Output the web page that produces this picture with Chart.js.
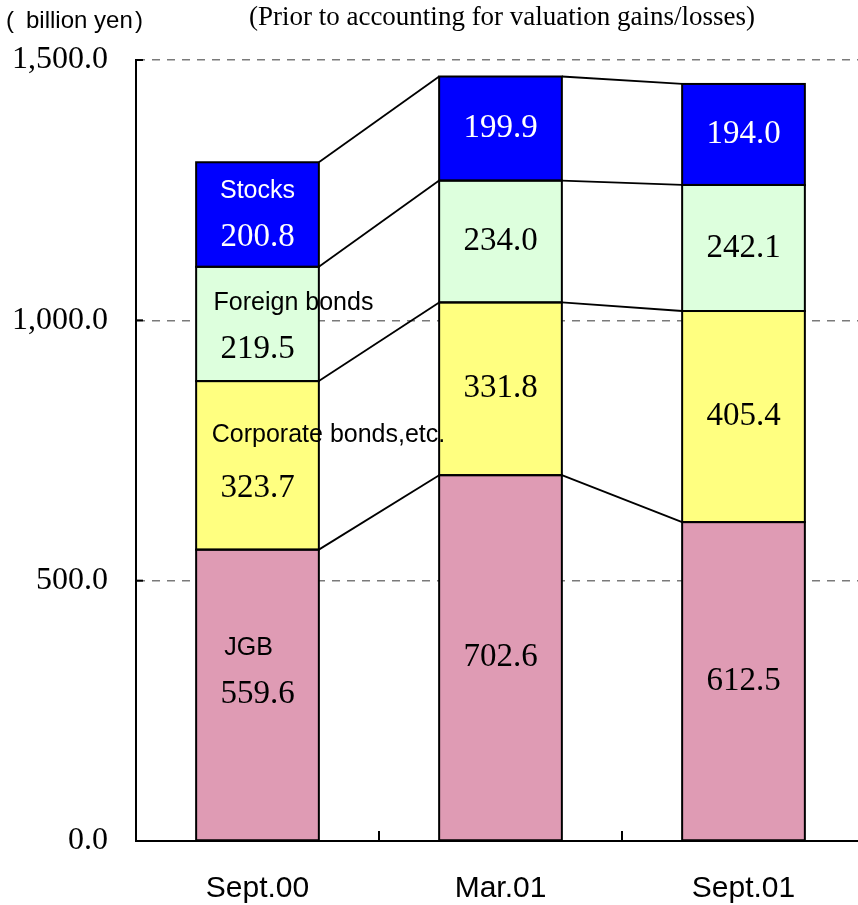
<!DOCTYPE html>
<html>
<head>
<meta charset="utf-8">
<script src="https://cdn.jsdelivr.net/npm/chart.js@4.4.1/dist/chart.umd.min.js"></script>
<style>
  html, body { margin: 0; padding: 0; background: #ffffff; overflow: hidden; }
  #wrap { position: relative; width: 865px; height: 905px; }
</style>
</head>
<body>
<div id="wrap"><canvas id="chart"></canvas></div>
<script>
// Balance by asset type, billion yen
const periods = ['Sept.00', 'Mar.01', 'Sept.01'];
const seriesNames = ['JGB', 'Corporate bonds,etc.', 'Foreign bonds', 'Stocks'];
const jgb = [559.6, 702.6, 612.5];
const corporateBonds = [323.7, 331.8, 405.4];
const foreignBonds = [219.5, 234.0, 242.1];
const stocks = [200.8, 199.9, 194.0];
const yTicks = [0, 500, 1000, 1500];
const unitText = 'billion yen';
const subtitle = '(Prior to accounting for valuation gains/losses)';

// Appearance of each series (fill and the colour of its in-bar text)
const seriesStyle = [
  { fill: '#DF9BB4', text: '#000000' },
  { fill: '#FFFF80', text: '#000000' },
  { fill: '#DDFFDD', text: '#000000' },
  { fill: '#0000FF', text: '#FFFFFF' }
];
// Where the series name and value sit inside the first column (offsets from the segment centre)
const firstColumnLabelPlacement = [
  { nameDx: -9, nameDy: -47, valueDy: -1 },
  { nameDx: 71, nameDy: -30, valueDy: 23 },
  { nameDx: 36, nameDy: -21, valueDy: 25 },
  { nameDx: 0, nameDy: -23, valueDy: 23 }
];

const SERIF = '"Liberation Serif", "Times New Roman", serif';
const SANS = '"Liberation Sans", Arial, sans-serif';

const seriesValues = [jgb, corporateBonds, foreignBonds, stocks];

const fmt = v => v.toLocaleString('en-US', { minimumFractionDigits: 1, maximumFractionDigits: 1 });

// Black outline round every segment, plus lines joining matching segment tops
// between neighbouring columns
const outlinePlugin = {
  id: 'outlines',
  afterDatasetsDraw(chart) {
    const ctx = chart.ctx;
    ctx.save();
    ctx.strokeStyle = '#000000';
    ctx.lineWidth = 2;
    seriesValues.forEach((_, d) => {
      chart.getDatasetMeta(d).data.forEach(el => {
        ctx.strokeRect(el.x - el.width / 2, el.y, el.width, el.base - el.y);
      });
    });
    ctx.lineWidth = 1.8;
    seriesValues.forEach((_, d) => {
      const meta = chart.getDatasetMeta(d);
      for (let i = 0; i < meta.data.length - 1; i++) {
        const a = meta.data[i], b = meta.data[i + 1];
        ctx.beginPath();
        ctx.moveTo(a.x + a.width / 2, a.y);
        ctx.lineTo(b.x - b.width / 2, b.y);
        ctx.stroke();
      }
    });
    ctx.restore();
  }
};

// Values (and, in the first column, series names) written inside the segments
const segmentLabelPlugin = {
  id: 'segmentLabels',
  afterDatasetsDraw(chart) {
    const ctx = chart.ctx;
    ctx.save();
    ctx.textAlign = 'center';
    ctx.textBaseline = 'middle';
    seriesValues.forEach((vals, d) => {
      const meta = chart.getDatasetMeta(d);
      meta.data.forEach((el, i) => {
        const cy = (el.y + el.base) / 2;
        ctx.fillStyle = seriesStyle[d].text;
        let valueY = cy;
        if (i === 0) {
          const p = firstColumnLabelPlacement[d];
          ctx.font = '25px ' + SANS;
          ctx.fillText(seriesNames[d], el.x + p.nameDx, cy + p.nameDy);
          valueY = cy + p.valueDy;
        }
        ctx.font = '33px ' + SERIF;
        ctx.fillText(fmt(vals[i]), el.x, valueY);
      });
    });
    ctx.restore();
  }
};

// Inward tick marks on both axes, unit label and subtitle
const frameExtrasPlugin = {
  id: 'frameExtras',
  afterDraw(chart) {
    const ctx = chart.ctx;
    const x = chart.scales.x, y = chart.scales.y;
    ctx.save();
    ctx.strokeStyle = '#000000';
    ctx.lineWidth = 2;
    yTicks.forEach(v => {
      const py = y.getPixelForValue(v);
      ctx.beginPath();
      ctx.moveTo(x.left, py);
      ctx.lineTo(x.left + 7, py);
      ctx.stroke();
    });
    const step = x.width / periods.length;
    for (let k = 0; k <= periods.length; k++) {
      const px = x.left + k * step;
      ctx.beginPath();
      ctx.moveTo(px, y.bottom);
      ctx.lineTo(px, y.bottom - 10);
      ctx.stroke();
    }
    ctx.fillStyle = '#000000';
    ctx.textBaseline = 'middle';
    // unit label with widely spaced brackets
    ctx.font = '24px ' + SANS;
    ctx.textAlign = 'left';
    ctx.fillText('(', 6, 21);
    ctx.fillText(unitText, 26, 21);
    ctx.textAlign = 'right';
    ctx.fillText(')', 143, 21);
    ctx.textAlign = 'center';
    ctx.font = '27px ' + SERIF;
    ctx.fillText(subtitle, 502, 18);
    ctx.restore();
  }
};

new Chart(document.getElementById('chart'), {
  type: 'bar',
  data: {
    labels: periods,
    datasets: seriesValues.map((vals, d) => ({
      label: seriesNames[d],
      data: vals,
      backgroundColor: seriesStyle[d].fill,
      borderWidth: 0,
      inflateAmount: 0,
      barPercentage: 0.505,
      categoryPercentage: 1.0
    }))
  },
  options: {
    responsive: true,
    maintainAspectRatio: false,
    animation: false,
    layout: { padding: { top: 60, right: 0, left: 0, bottom: 0 } },
    plugins: {
      legend: { display: false },
      tooltip: { enabled: false },
      title: { display: false }
    },
    scales: {
      x: {
        stacked: true,
        grid: { display: false, drawTicks: false },
        border: { display: true, color: '#000000', width: 2 },
        ticks: {
          color: '#000000',
          font: { family: SANS, size: 30 },
          padding: 30
        },
        afterFit(scale) { scale.height = 64; }
      },
      y: {
        stacked: true,
        min: 0,
        max: 1500,
        afterBuildTicks(scale) { scale.ticks = yTicks.map(v => ({ value: v })); },
        grid: {
          drawTicks: false,
          lineWidth: 1.5,
          color: ctx => (ctx.tick && ctx.tick.value === 0) ? 'rgba(0,0,0,0)' : '#7a7a7a'
        },
        border: { display: true, color: '#000000', width: 2, dash: [8, 7] },
        ticks: {
          color: '#000000',
          font: { family: SERIF, size: 32 },
          padding: 28,
          callback: v => fmt(v)
        },
        afterFit(scale) { scale.width = 136; }
      }
    }
  },
  plugins: [outlinePlugin, segmentLabelPlugin, frameExtrasPlugin]
});
</script>
</body>
</html>
